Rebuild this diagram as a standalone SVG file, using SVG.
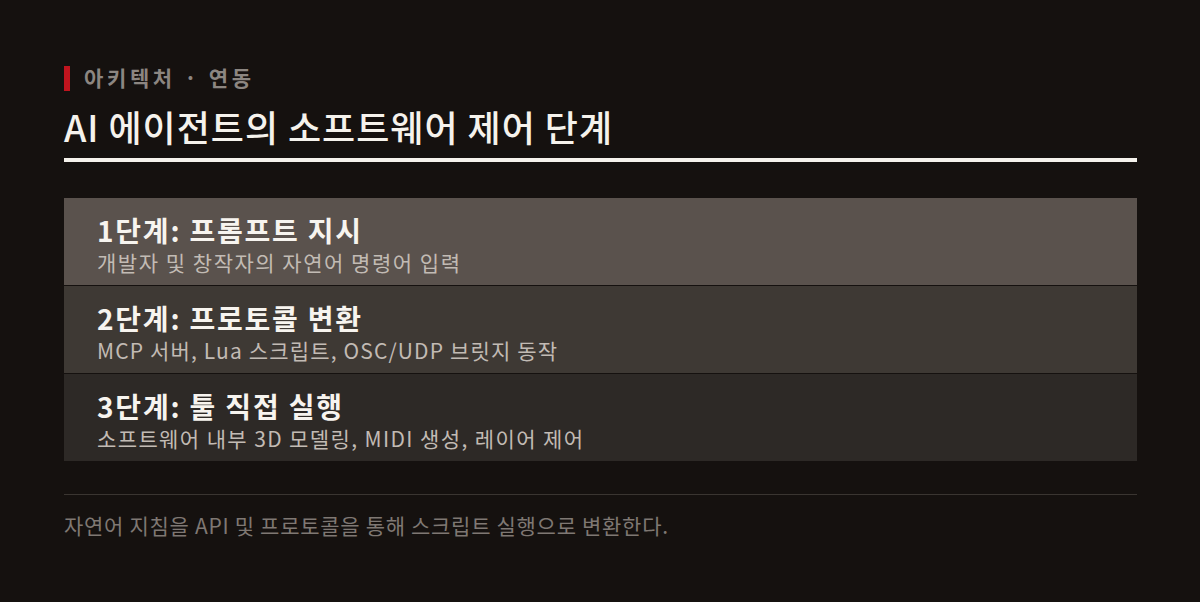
<svg xmlns="http://www.w3.org/2000/svg" width="1200" height="602" viewBox="0 0 1200 602">
<style>
.f{font-family:"Noto Sans CJK KR","Noto Sans",sans-serif}
.kick{font-size:21px;font-weight:700;fill:#8c8681}
.title{font-size:36px;font-weight:500;fill:#f5f2ec}
.st{font-size:28px;font-weight:700;fill:#f7f4ef}
.sub{font-size:21px;font-weight:400;fill:#c2bbb4}
.foot{font-size:21px;font-weight:400;fill:#7f7873}
</style>
<rect width="1200" height="602" fill="#15110f"/>
<g id="header">
<rect x="64" y="66" width="6" height="25" fill="#c0141e"/>
<text class="f kick" x="84" y="86" textLength="167" lengthAdjust="spacing">아키텍처 · 연동</text>
<text class="f title" x="64" y="142" textLength="548" lengthAdjust="spacing">AI 에이전트의 소프트웨어 제어 단계</text>
<rect x="64" y="158" width="1073" height="4" fill="#f5f2ec"/>
</g>
<g id="step1">
<rect x="64" y="198" width="1073" height="87" fill="#5a524d"/>
<text class="f st" x="97" y="242" textLength="264" lengthAdjust="spacing">1단계: 프롬프트 지시</text>
<text class="f sub" x="97" y="271" textLength="363" lengthAdjust="spacing">개발자 및 창작자의 자연어 명령어 입력</text>
</g>
<g id="step2">
<rect x="64" y="286" width="1073" height="87" fill="#3e3934"/>
<text class="f st" x="97" y="330" textLength="264" lengthAdjust="spacing">2단계: 프로토콜 변환</text>
<text class="f sub" x="97" y="359" textLength="460" lengthAdjust="spacing">MCP 서버, Lua 스크립트, OSC/UDP 브릿지 동작</text>
</g>
<g id="step3">
<rect x="64" y="374" width="1073" height="87" fill="#2d2926"/>
<text class="f st" x="97" y="418" textLength="245" lengthAdjust="spacing">3단계: 툴 직접 실행</text>
<text class="f sub" x="97" y="447" textLength="486" lengthAdjust="spacing">소프트웨어 내부 3D 모델링, MIDI 생성, 레이어 제어</text>
</g>
<g id="footer">
<rect x="64" y="494" width="1073" height="1" fill="#3a3531"/>
<text class="f foot" x="64" y="534" textLength="604" lengthAdjust="spacing">자연어 지침을 API 및 프로토콜을 통해 스크립트 실행으로 변환한다.</text>
</g>
<g id="connectors"/>
</svg>
